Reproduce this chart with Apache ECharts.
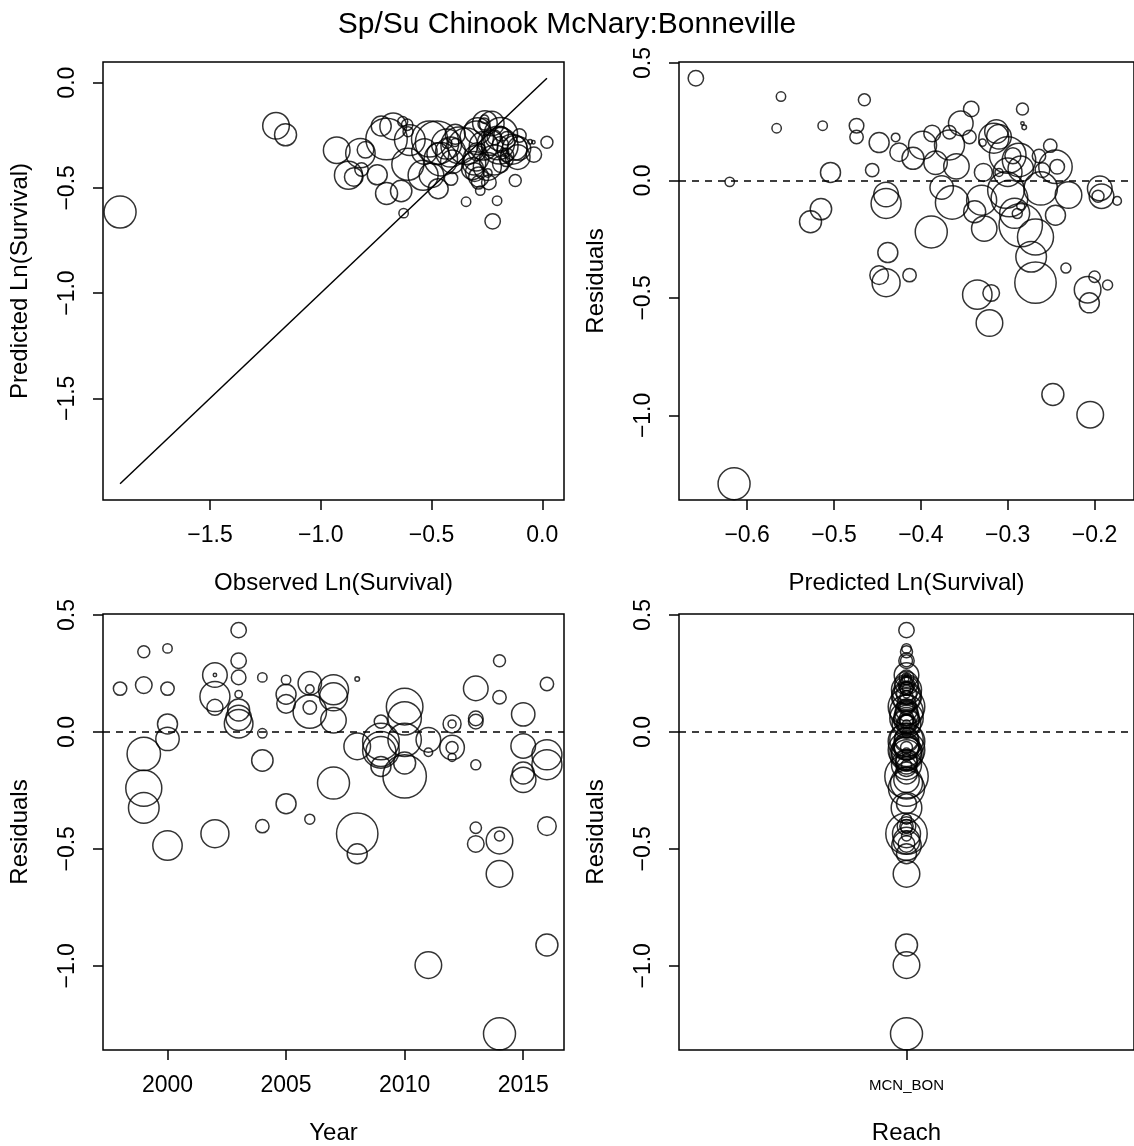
<!DOCTYPE html>
<html>
<head>
<meta charset="utf-8">
<title>Sp/Su Chinook McNary:Bonneville</title>
<script src="https://cdn.jsdelivr.net/npm/echarts@6/dist/echarts.min.js"></script>
<style>
  html, body { margin: 0; padding: 0; background: #fff; }
  #chart { width: 1134px; height: 1146px; }
</style>
</head>
<body>
<div id="chart"></div>
<script>
// Observation-level records for the McNary -> Bonneville reach
const years = [
  1998,
  1999, 1999, 1999, 1999, 1999,
  2000, 2000, 2000, 2000, 2000,
  2002, 2002, 2002, 2002, 2002,
  2003, 2003, 2003, 2003, 2003, 2003, 2003,
  2004, 2004, 2004, 2004,
  2005, 2005, 2005, 2005,
  2006, 2006, 2006, 2006, 2006,
  2007, 2007, 2007, 2007,
  2008, 2008, 2008, 2008,
  2009, 2009, 2009, 2009, 2009,
  2010, 2010, 2010, 2010, 2010,
  2011, 2011, 2011,
  2012, 2012, 2012, 2012, 2012,
  2013, 2013, 2013, 2013, 2013, 2013,
  2014, 2014, 2014, 2014, 2014, 2014,
  2015, 2015, 2015, 2015,
  2016, 2016, 2016, 2016, 2016
];

const observedLnSurv = [
  -0.289,
  -0.122, -0.187, -0.458, -0.509, -0.598,
  -0.204, -0.159, -0.470, -0.406, -0.821,
  -0.111, -0.040, -0.216, -0.189, -0.875,
  -0.224, -0.038, -0.241, -0.168, -0.315, -0.299, -0.265,
  -0.280, -0.626, -0.637, -0.816,
  -0.344, -0.287, -0.305, -0.745,
  -0.105, -0.246, -0.160, -0.200, -0.606,
  -0.136, -0.248, -0.235, -0.607,
  -0.055, -0.292, -0.703, -0.727,
  -0.412, -0.343, -0.375, -0.414, -0.393,
  -0.192, -0.187, -0.296, -0.471, -0.475,
  -0.228, -0.261, -1.202,
  -0.294, -0.276, -0.259, -0.263, -0.394,
  -0.124, -0.185, -0.216, -0.430, -0.610, -0.798,
  0.021, -0.103, -0.630, -0.673, -0.928, -1.906,
  -0.308, -0.500, -0.703, -0.532,
  -0.162, -0.538, -0.432, -0.851, -1.159
];

const predictedLnSurv = [
  -0.474,
  -0.465, -0.387, -0.364, -0.268, -0.273,
  -0.561, -0.344, -0.504, -0.376, -0.335,
  -0.354, -0.283, -0.367, -0.294, -0.440,
  -0.659, -0.342, -0.474, -0.329, -0.409, -0.359, -0.300,
  -0.513, -0.620, -0.515, -0.413,
  -0.566, -0.448, -0.425, -0.438,
  -0.313, -0.429, -0.264, -0.287, -0.233,
  -0.316, -0.398, -0.285, -0.388,
  -0.281, -0.230, -0.268, -0.206,
  -0.456, -0.302, -0.298, -0.330, -0.245,
  -0.300, -0.245, -0.262, -0.338, -0.285,
  -0.194, -0.174, -0.205,
  -0.328, -0.310, -0.192, -0.196, -0.285,
  -0.310, -0.243, -0.260, -0.289, -0.200, -0.319,
  -0.283, -0.251, -0.185, -0.208, -0.321, -0.615,
  -0.383, -0.440, -0.527, -0.327,
  -0.367, -0.440, -0.292, -0.448, -0.248
];

// relative weight of each observation (circle radius units)
const weights = [
  6.7,
  6.0, 8.3, 16.7, 18.0, 15.3,
  4.7, 6.7, 10.0, 11.7, 14.7,
  12.3, 1.7, 15.0, 8.0, 14.0,
  7.7, 7.7, 7.3, 3.7, 11.0, 12.7, 14.3,
  4.7, 4.7, 10.7, 6.7,
  4.7, 10.0, 9.3, 10.0,
  11.7, 4.3, 6.7, 16.7, 5.0,
  15.0, 14.0, 12.7, 16.0,
  2.3, 13.3, 20.7, 10.0,
  6.7, 18.3, 18.3, 15.0, 10.0,
  18.3, 16.7, 16.7, 11.0, 21.7,
  12.3, 4.3, 13.3,
  9.0, 4.0, 12.3, 6.0, 4.0,
  12.3, 7.3, 7.3, 5.0, 5.7, 8.3,
  6.0, 6.7, 5.0, 13.3, 13.3, 16.0,
  11.7, 12.3, 11.0, 12.7,
  6.7, 15.0, 15.0, 9.3, 11.0
];

const reaches = ['MCN_BON'];

// tick labels for each panel
const obsTicks = [-1.5, -1.0, -0.5, 0.0];
const predTicks = [0.0, -0.5, -1.0, -1.5];
const predResTicks = [-0.6, -0.5, -0.4, -0.3, -0.2];
const residTicks = [0.5, 0.0, -0.5, -1.0];
const yearTicks = [2000, 2005, 2010, 2015];

// ---------------------------------------------------------------
const residuals = observedLnSurv.map((o, i) => +(o - predictedLnSurv[i]).toFixed(3));

// R-style axis limits: data range padded by 4% on each side
function padRange(arr) {
  const lo = Math.min(...arr), hi = Math.max(...arr);
  const pad = (hi - lo) * 0.04;
  return [lo - pad, hi + pad];
}

const both = observedLnSurv.concat(predictedLnSurv);
const diagLo = Math.min(...both), diagHi = Math.max(...both);
const limObsPred = padRange(both);
const limPred = padRange(predictedLnSurv);
const limResid = padRange(residuals);
const limYear = padRange(years);

const FONT = "'Liberation Sans', Arial, Helvetica, sans-serif";
const TICK_FONT = 23;
const NAME_FONT = 24;
const INK = '#000';
const LW = 1.5;
const fmt = v => v.toFixed(1).replace('-', '\u2212');

function tickLabels(ticks, formatter, rotate) {
  return { show: true, customValues: ticks, formatter: formatter, rotate: rotate || 0,
           color: INK, fontSize: TICK_FONT, fontFamily: FONT, margin: 24 };
}

function valueAxis(idx, lim, ticks, opts) {
  return Object.assign({
    type: 'value',
    gridIndex: idx,
    min: lim[0],
    max: lim[1],
    splitLine: { show: false },
    axisLine: { show: false, onZero: false },
    axisTick: { show: true, length: 10, customValues: ticks,
                lineStyle: { color: INK, width: LW } },
    axisLabel: tickLabels(ticks, fmt),
    nameLocation: 'middle',
    nameTextStyle: { color: INK, fontSize: NAME_FONT, fontFamily: FONT }
  }, opts || {});
}

const zeroLine = {
  silent: true,
  symbol: ['none', 'none'],
  label: { show: false },
  lineStyle: { type: [7, 6], color: INK, width: LW },
  data: [{ yAxis: 0 }]
};

const bubbleStyle = { color: 'rgba(0,0,0,0)', borderColor: INK, borderWidth: LW };
const bubbleSize = v => 2 * v[2];

const panelBox = { show: true, borderColor: INK, borderWidth: LW, backgroundColor: 'rgba(0,0,0,0)' };

const option = {
  animation: false,
  backgroundColor: '#fff',
  title: {
    text: 'Sp/Su Chinook McNary:Bonneville',
    left: 'center',
    top: 5,
    textStyle: { fontSize: 30, fontWeight: 'normal', color: INK, fontFamily: FONT }
  },
  grid: [
    Object.assign({ left: 103, top: 62, width: 461, height: 438 }, panelBox),
    Object.assign({ left: 679, top: 62, width: 462, height: 438 }, panelBox),
    Object.assign({ left: 103, top: 614, width: 461, height: 438 }, panelBox),
    Object.assign({ left: 679, top: 614, width: 462, height: 438 }, panelBox)
  ],
  xAxis: [
    valueAxis(0, limObsPred, obsTicks, { name: 'Observed Ln(Survival)', nameGap: 71 }),
    valueAxis(1, limPred, predResTicks, { name: 'Predicted Ln(Survival)', nameGap: 71 }),
    valueAxis(2, limYear, yearTicks, {
      name: 'Year', nameGap: 71,
      axisLabel: tickLabels(yearTicks, v => String(v))
    }),
    {
      type: 'category',
      gridIndex: 3,
      data: reaches,
      boundaryGap: true,
      splitLine: { show: false },
      axisLine: { show: false, onZero: false },
      axisTick: { show: true, length: 10, alignWithLabel: true,
                  lineStyle: { color: INK, width: LW } },
      axisLabel: { color: INK, fontSize: 15, fontFamily: FONT, margin: 28 },
      name: 'Reach',
      nameLocation: 'middle',
      nameGap: 71,
      nameTextStyle: { color: INK, fontSize: NAME_FONT, fontFamily: FONT }
    }
  ],
  yAxis: [
    valueAxis(0, limObsPred, predTicks, { name: 'Predicted Ln(Survival)', nameGap: 71,
      axisLabel: tickLabels(predTicks, fmt, 90) }),
    valueAxis(1, limResid, residTicks, { name: 'Residuals', nameGap: 71,
      axisLabel: tickLabels(residTicks, fmt, 90) }),
    valueAxis(2, limResid, residTicks, { name: 'Residuals', nameGap: 71,
      axisLabel: tickLabels(residTicks, fmt, 90) }),
    valueAxis(3, limResid, residTicks, { name: 'Residuals', nameGap: 71,
      axisLabel: tickLabels(residTicks, fmt, 90) })
  ],
  series: [
    {
      // observed vs predicted, with the 1:1 reference line below
      type: 'scatter', xAxisIndex: 0, yAxisIndex: 0,
      data: observedLnSurv.map((o, i) => [o, predictedLnSurv[i], weights[i]]),
      symbolSize: bubbleSize, itemStyle: bubbleStyle, emphasis: { disabled: true }
    },
    {
      type: 'line', xAxisIndex: 0, yAxisIndex: 0,
      data: [[diagLo, diagLo], [diagHi, diagHi]],
      symbol: 'none', silent: true,
      lineStyle: { color: INK, width: LW }
    },
    {
      type: 'scatter', xAxisIndex: 1, yAxisIndex: 1,
      data: predictedLnSurv.map((p, i) => [p, residuals[i], weights[i]]),
      symbolSize: bubbleSize, itemStyle: bubbleStyle, emphasis: { disabled: true },
      markLine: zeroLine
    },
    {
      type: 'scatter', xAxisIndex: 2, yAxisIndex: 2,
      data: years.map((y, i) => [y, residuals[i], weights[i]]),
      symbolSize: bubbleSize, itemStyle: bubbleStyle, emphasis: { disabled: true },
      markLine: zeroLine
    },
    {
      type: 'scatter', xAxisIndex: 3, yAxisIndex: 3,
      data: residuals.map((r, i) => [reaches[0], r, weights[i]]),
      symbolSize: bubbleSize, itemStyle: bubbleStyle, emphasis: { disabled: true },
      markLine: zeroLine
    }
  ]
};

const chart = echarts.init(document.getElementById('chart'), null, { renderer: 'canvas' });
chart.setOption(option);
</script>
</body>
</html>
